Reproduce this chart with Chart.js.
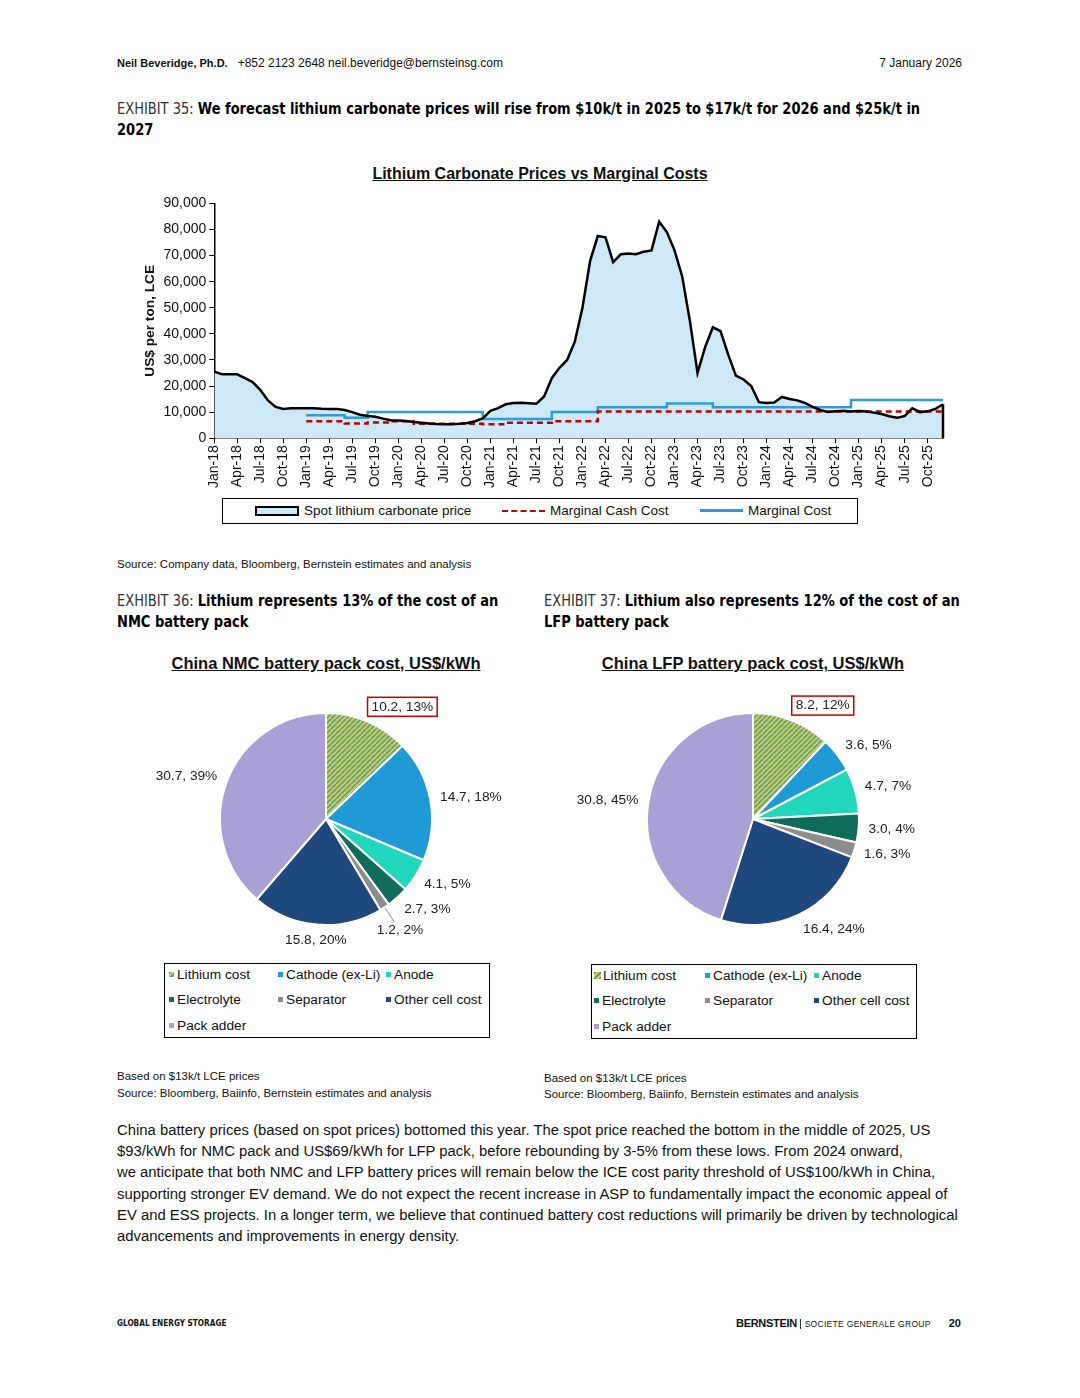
<!DOCTYPE html>
<html>
<head>
<meta charset="utf-8">
<script src="https://cdn.jsdelivr.net/npm/chart.js@4.4.1/dist/chart.umd.min.js"></script>
<style>
  body { margin: 0; width: 1080px; height: 1398px; background: #fff; position: relative; font-family: "Liberation Sans", Arial, sans-serif; color: #111; overflow: hidden; }
  .abs { position: absolute; white-space: nowrap; }
  .hdr { font-size: 12px; top: 56px; }
  .cond { font-family: "Liberation Sans Narrow", "DejaVu Sans Condensed", sans-serif; transform: scaleX(0.905); transform-origin: left top; }
  .exh { font-size: 16px; line-height: 21px; }
  .exh .lab { font-weight: normal; color: #333; }
  .exh b { font-weight: bold; color: #000; }
  .ctitle { font-weight: bold; text-decoration: underline; font-size: 16px; transform: translateX(-50%); }
  .src { font-size: 11.5px; }
  .body { font-size: 14.85px; line-height: 21.2px; }
  .legbox { position: absolute; border: 1.5px solid #000; box-sizing: border-box; font-size: 13.7px; }
  .item { position: absolute; display: flex; align-items: center; white-space: nowrap; }
  .mk { width: 5px; height: 5px; margin-right: 3px; display: inline-block; }
  .hatch { background: repeating-linear-gradient(135deg, #5fa07a 0 2px, #cfcf63 2px 4px); }
</style>
</head>
<body>

<div class="abs hdr" style="left:117px"><b style="font-size:11px">Neil Beveridge, Ph.D.</b>&nbsp;&nbsp; +852 2123 2648 neil.beveridge@bernsteinsg.com</div>
<div class="abs hdr" style="right:118px">7 January 2026</div>

<div class="abs exh cond" style="left:117px;top:98px"><span class="lab">EXHIBIT 35:</span> <b>We forecast lithium carbonate prices will rise from $10k/t in 2025 to $17k/t for 2026 and $25k/t in</b><br><b>2027</b></div>

<div class="abs ctitle" style="left:540px;top:165px">Lithium Carbonate Prices vs Marginal Costs</div>

<div style="position:absolute;left:130px;top:192px;width:830px;height:298px"><canvas id="lineChart"></canvas></div>

<div class="legbox" style="left:222px;top:498px;width:636px;height:26px;font-size:13.5px">
  <div class="item" style="left:32px;top:4px"><span style="display:inline-block;width:40px;height:6px;border:2px solid #000;background:#cde8f7;margin-right:5px"></span>Spot lithium carbonate price</div>
  <div class="item" style="left:279px;top:4px"><span style="display:inline-block;width:43px;height:0;border-top:2.5px dashed #c00000;margin-right:5px"></span>Marginal Cash Cost</div>
  <div class="item" style="left:477px;top:4px"><span style="display:inline-block;width:43px;height:2.5px;background:#2e9bd6;margin-right:5px"></span>Marginal Cost</div>
</div>

<div class="abs src" style="left:117px;top:558px">Source: Company data, Bloomberg, Bernstein estimates and analysis</div>

<div class="abs exh cond" style="left:117px;top:590px"><span class="lab">EXHIBIT 36:</span> <b>Lithium represents 13% of the cost of an</b><br><b>NMC battery pack</b></div>
<div class="abs exh cond" style="left:544px;top:590px"><span class="lab">EXHIBIT 37:</span> <b>Lithium also represents 12% of the cost of an</b><br><b>LFP battery pack</b></div>

<div class="abs ctitle" style="left:326px;top:654px;font-size:16.5px">China NMC battery pack cost, US$/kWh</div>
<div class="abs ctitle" style="left:753px;top:654px;font-size:16.5px">China LFP battery pack cost, US$/kWh</div>

<div style="position:absolute;left:126px;top:684px;width:400px;height:270px"><canvas id="nmcChart"></canvas></div>
<div style="position:absolute;left:553px;top:684px;width:400px;height:270px"><canvas id="lfpChart"></canvas></div>

<div class="legbox" id="nmcLegend" style="left:164px;top:963px;width:326px;height:75px"></div>
<div class="legbox" id="lfpLegend" style="left:591px;top:964px;width:326px;height:75px"></div>

<div class="abs src" style="left:117px;top:1070px">Based on $13k/t LCE prices</div>
<div class="abs src" style="left:117px;top:1087px">Source: Bloomberg, Baiinfo, Bernstein estimates and analysis</div>
<div class="abs src" style="left:544px;top:1072px">Based on $13k/t LCE prices</div>
<div class="abs src" style="left:544px;top:1088px">Source: Bloomberg, Baiinfo, Bernstein estimates and analysis</div>

<div class="abs body" style="left:117px;top:1120px">China battery prices (based on spot prices) bottomed this year. The spot price reached the bottom in the middle of 2025, US<br>$93/kWh for NMC pack and US$69/kWh for LFP pack, before rebounding by 3-5% from these lows. From 2024 onward,<br>we anticipate that both NMC and LFP battery prices will remain below the ICE cost parity threshold of US$100/kWh in China,<br>supporting stronger EV demand. We do not expect the recent increase in ASP to fundamentally impact the economic appeal of<br>EV and ESS projects. In a longer term, we believe that continued battery cost reductions will primarily be driven by technological<br>advancements and improvements in energy density.</div>

<div class="abs cond" style="left:117px;top:1318px;font-size:9px;font-weight:bold">GLOBAL ENERGY STORAGE</div>
<div class="abs" style="right:119px;top:1317px;font-size:10px"><b style="font-size:11px;letter-spacing:-0.3px">BERNSTEIN</b> <span style="border-left:1px solid #333;padding-left:4px;font-size:8.5px;letter-spacing:0.3px">SOCIETE GENERALE GROUP</span><b style="font-size:11px;margin-left:18px">20</b></div>

<script>
// ---- line chart data ----
const years = ['18', '19', '20', '21', '22', '23', '24', '25'];
const monthNames = ['Jan', 'Feb', 'Mar', 'Apr', 'May', 'Jun', 'Jul', 'Aug', 'Sep', 'Oct', 'Nov', 'Dec'];
const months = [];
years.forEach(y => monthNames.forEach(m => months.push(m + '-' + y)));

// spot lithium carbonate, US$/t, Jan-18 .. Dec-25
const spotPrice = [
  25500, 24500, 24500, 24500, 23000, 21500, 18500, 14500, 12000, 11200, 11500, 11500,
  11500, 11500, 11300, 11200, 11200, 10800, 10000, 9000, 8500, 8200, 7500, 6900,
  6800, 6600, 6200, 5900, 5600, 5400, 5300, 5300, 5500, 5800, 6500, 7600,
  10500, 11500, 13000, 13500, 13600, 13400, 13200, 16000, 23000, 27000, 30000, 37000,
  50000, 68000, 77500, 77000, 67500, 70500, 70800, 70500, 71500, 72000, 83000, 79000,
  72000, 62000, 45000, 25000, 35000, 42500, 41000, 32000, 24000, 22500, 20000, 13800,
  13500, 13700, 15800, 15000, 14500, 13500, 12000, 10800, 10000, 10300, 10500, 10200,
  10400, 10200, 9800, 9300, 8400, 7800, 8500, 11500, 10000, 10300, 11200, 13000
];
// step series: month the level starts, and the level
const marginalCostStart = ['Jan-19', 'Jul-19', 'Oct-19', 'Jan-21', 'Oct-21', 'Apr-22', 'Jan-23', 'Jul-23', 'Jan-25'];
const marginalCostLevel = [8800, 7800, 10000, 7400, 10000, 11900, 13300, 11900, 14600];
const cashCostStart = ['Jan-19', 'Jul-19', 'Oct-19', 'Jan-20', 'Apr-20', 'Jan-21', 'Apr-21', 'Oct-21', 'Apr-22'];
const cashCostLevel = [6500, 5600, 6000, 6500, 5500, 5300, 5900, 6500, 10200];

function expandSteps(starts, levels) {
  let cur = null;
  return months.map(m => {
    const k = starts.indexOf(m);
    if (k >= 0) cur = levels[k];
    return cur;
  });
}

// ---- pie data ----
const segments = ['Lithium cost', 'Cathode (ex-Li)', 'Anode', 'Electrolyte', 'Separator', 'Other cell cost', 'Pack adder'];
const nmcCost = [10.2, 14.7, 4.1, 2.7, 1.2, 15.8, 30.7];
const nmcShare = [13, 18, 5, 3, 2, 20, 39];
const lfpCost = [8.2, 3.6, 4.7, 3.0, 1.6, 16.4, 30.8];
const lfpShare = [12, 5, 7, 4, 3, 24, 45];
const segColors = ['#6aa86e', '#1f9ad6', '#22d6bd', '#0f6b5a', '#8c8c8c', '#1f497d', '#a9a0d6'];

const FONT = '"Liberation Sans", Arial, sans-serif';
Chart.defaults.font.family = FONT;
Chart.defaults.color = '#111';

// right-hand edge of the spot area, drawn like the source's outlined area
const areaEdge = {
  id: 'areaEdge',
  afterDatasetsDraw(chart) {
    const meta = chart.getDatasetMeta(0);
    const last = meta.data[meta.data.length - 1];
    const y0 = chart.scales.y.getPixelForValue(0);
    const ctx = chart.ctx;
    ctx.save();
    ctx.strokeStyle = '#000';
    ctx.lineWidth = 2.5;
    ctx.beginPath();
    ctx.moveTo(last.x, last.y);
    ctx.lineTo(last.x, y0);
    ctx.stroke();
    ctx.restore();
  }
};

new Chart(document.getElementById('lineChart'), {
  type: 'line',
  data: {
    labels: months,
    datasets: [
      { label: 'Spot lithium carbonate price', data: spotPrice, borderColor: '#000', borderWidth: 2.5,
        backgroundColor: '#cde8f7', fill: 'origin', pointRadius: 0, tension: 0 },
      { label: 'Marginal Cash Cost', data: expandSteps(cashCostStart, cashCostLevel), borderColor: '#c00000',
        borderWidth: 2.5, borderDash: [6, 4], stepped: 'after', pointRadius: 0, fill: false },
      { label: 'Marginal Cost', data: expandSteps(marginalCostStart, marginalCostLevel), borderColor: '#2e9bd6',
        borderWidth: 2.5, stepped: 'after', pointRadius: 0, fill: false }
    ]
  },
  options: {
    responsive: true,
    maintainAspectRatio: false,
    animation: false,
    layout: { padding: { left: 10, right: 17, top: 2, bottom: 0 } },
    plugins: { legend: { display: false }, tooltip: { enabled: false }, filler: { drawTime: 'beforeDatasetsDraw' } },
    scales: {
      x: {
        offset: false,
        grid: { display: true, drawOnChartArea: false, drawTicks: true, tickLength: 5, color: '#000' },
        border: { display: true, color: '#000', width: 1.5 },
        ticks: {
          autoSkip: false, maxRotation: 90, minRotation: 90, color: '#111', font: { size: 14 }, padding: 2,
          callback: function (v, i) { return i % 3 === 0 ? months[i] : null; }
        }
      },
      y: {
        min: 0, max: 90000,
        grid: { display: true, drawOnChartArea: false, drawTicks: true, tickLength: 5, color: '#000' },
        border: { display: true, color: '#000', width: 1.5 },
        ticks: { stepSize: 10000, color: '#111', font: { size: 14 }, padding: 3,
          callback: v => v.toLocaleString('en-US') },
        title: { display: true, text: 'US$ per ton, LCE', font: { size: 13.7, weight: 'bold' }, color: '#111', padding: 2 }
      }
    }
  },
  plugins: [areaEdge]
});

// hatched fill for the lithium slice
function hatchPattern() {
  const c = document.createElement('canvas');
  c.width = 5; c.height = 5;
  const g = c.getContext('2d');
  g.fillStyle = '#cfcf63';
  g.fillRect(0, 0, 5, 5);
  g.strokeStyle = '#5c9e78';
  g.lineWidth = 1.6;
  for (let k = -5; k <= 10; k += 5) {
    g.beginPath(); g.moveTo(k, 5); g.lineTo(k + 5, 0); g.stroke();
  }
  return g.createPattern(c, 'repeat');
}

const pieLabels = {
  id: 'pieLabels',
  afterDraw(chart, args, opts) {
    const ctx = chart.ctx;
    const meta = chart.getDatasetMeta(0);
    const vals = chart.data.datasets[0].data;
    const share = opts.share;
    ctx.save();
    ctx.font = '13.7px ' + FONT;
    ctx.fillStyle = '#222';
    ctx.textBaseline = 'middle';
    meta.data.forEach((arc, i) => {
      const mid = (arc.startAngle + arc.endAngle) / 2;
      const dx = Math.cos(mid), dy = Math.sin(mid);
      const r = arc.outerRadius;
      const txt = vals[i].toFixed(1) + ', ' + share[i] + '%';
      let x, y, align;
      if (i === 4 && opts.leader) {
        x = arc.x + dx * (r + 28); y = arc.y + dy * (r + 28);
        align = 'center';
        ctx.strokeStyle = '#888'; ctx.lineWidth = 1;
        ctx.beginPath();
        ctx.moveTo(arc.x + dx * (r + 1), arc.y + dy * (r + 1));
        ctx.lineTo(arc.x + dx * (r + 17), arc.y + dy * (r + 17));
        ctx.stroke();
      } else {
        x = arc.x + dx * (r + 10); y = arc.y + dy * (r + 10) + dy * 6;
        align = Math.abs(dx) < 0.3 ? 'center' : (dx > 0 ? 'left' : 'right');
      }
      ctx.textAlign = align;
      ctx.fillText(txt, x, y);
      if (i === 0) {
        const w = ctx.measureText(txt).width;
        const left = align === 'left' ? x : align === 'right' ? x - w : x - w / 2;
        ctx.strokeStyle = '#c00000'; ctx.lineWidth = 1.5;
        ctx.strokeRect(left - 4, y - 9.5, w + 8, 19);
      }
    });
    ctx.restore();
  }
};

function makePie(id, costs, share, leader) {
  const colors = segColors.slice();
  colors[0] = hatchPattern();
  new Chart(document.getElementById(id), {
    type: 'pie',
    data: { labels: segments, datasets: [{ data: costs, backgroundColor: colors, borderColor: '#fff', borderWidth: 2 }] },
    options: {
      responsive: true, maintainAspectRatio: false, animation: false,
      layout: { padding: 28 },
      plugins: { legend: { display: false }, tooltip: { enabled: false }, pieLabels: { share: share, leader: leader } }
    },
    plugins: [pieLabels]
  });
}
makePie('nmcChart', nmcCost, nmcShare, true);
makePie('lfpChart', lfpCost, lfpShare, false);

function makeLegend(id, colX, bigMarker) {
  const box = document.getElementById(id);
  const rows = [12, 37, 63];
  segments.forEach((s, i) => {
    const d = document.createElement('div');
    d.className = 'item';
    d.style.left = colX[i % 3] + 'px';
    d.style.top = (rows[Math.floor(i / 3)] - 9) + 'px';
    const mk = document.createElement('span');
    mk.className = 'mk' + (i === 0 ? ' hatch' : '');
    if (i !== 0) mk.style.background = segColors[i];
    if (i === 0 && bigMarker) { mk.style.width = '7px'; mk.style.height = '7px'; mk.style.marginRight = '2px'; }
    d.appendChild(mk);
    d.appendChild(document.createTextNode(s));
    box.appendChild(d);
  });
}
makeLegend('nmcLegend', [4, 113, 221], false);
makeLegend('lfpLegend', [2, 113, 222], true);
</script>
</body>
</html>
